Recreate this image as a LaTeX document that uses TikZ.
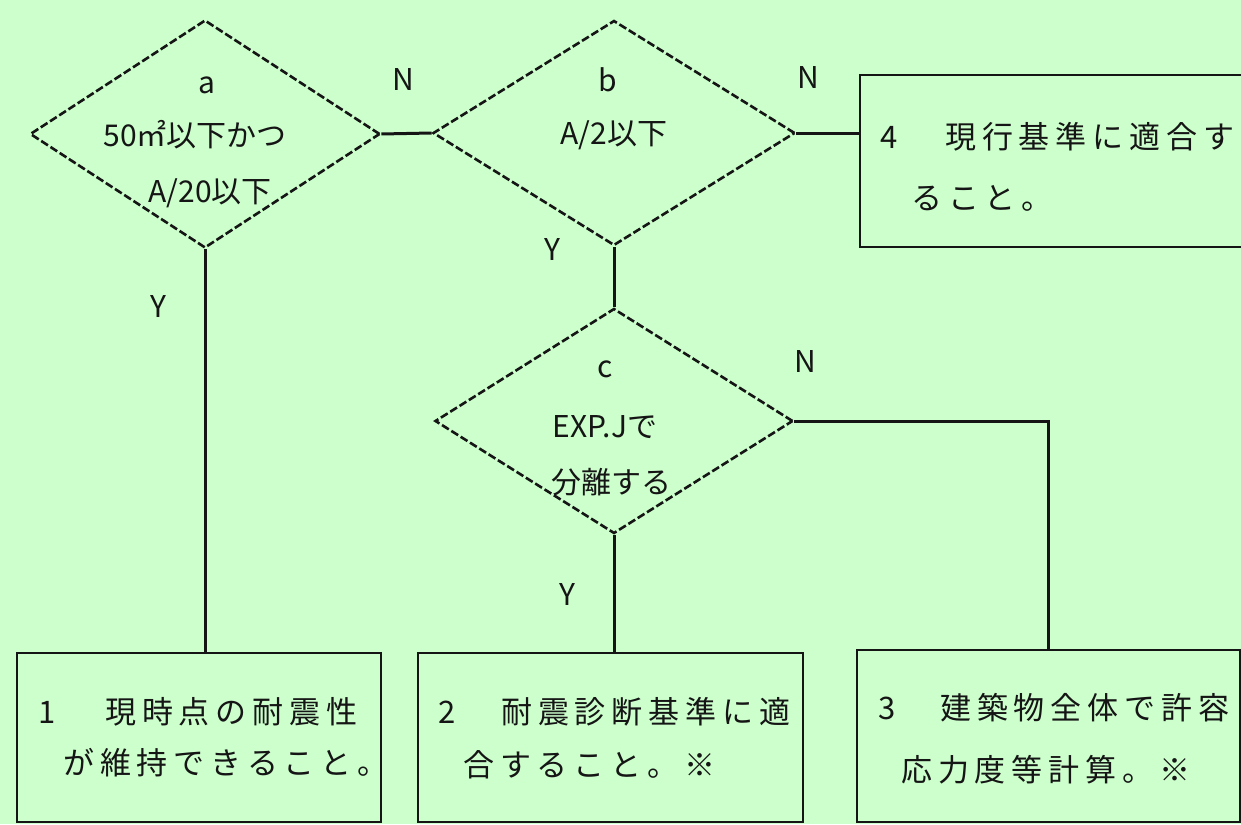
\documentclass[tikz,border=0pt]{standalone}
\usepackage{fontspec}
\setmainfont{Noto Sans CJK JP}
\newfontfamily\jp{Noto Sans CJK JP}
\newfontfamily\jpsp[LetterSpace=19]{Noto Sans CJK JP}
\usetikzlibrary{shapes.geometric}
\definecolor{bg}{HTML}{CCFFCC}
\definecolor{ink}{HTML}{151515}
\begin{document}
\begin{tikzpicture}[x=1pt,y=-1pt,
  dec/.style={diamond, draw=ink, line width=2.6pt, dash pattern=on 8pt off 3pt, inner sep=0pt},
  boxnode/.style={rectangle, draw=ink, line width=2.8pt, inner sep=0pt},
  conn/.style={draw=ink, line width=3pt},
  yn/.style={font=\jp\fontsize{30}{30}\selectfont, text=ink, inner sep=0pt},
  dtxt/.style={font=\jp\fontsize{30}{30}\selectfont, text=ink, inner sep=0pt},
  btxt/.style={font=\jpsp\fontsize{31}{31}\selectfont, text=ink, inner sep=0pt, anchor=west},
]
\fill[bg] (0,0) rectangle (1241,824);
\useasboundingbox (0,0) rectangle (1241,824);
\clip (0,0) rectangle (1241,824);

% decisions
\node[dec, minimum width=350pt, minimum height=228pt] (a) at (205,134) {};
\node[dec, minimum width=362pt, minimum height=225pt] (b) at (614,133) {};
\node[dec, minimum width=358pt, minimum height=225pt] (c) at (614,421) {};

\node[dtxt] (alab) at (207,85) {a};
\node[dtxt] (a1) at (195,135) {50㎡以下かつ};
\node[dtxt] (a2) at (210,193) {A/20以下};
\node[dtxt] (blab) at (608,80) {b};
\node[dtxt] (b1) at (614,135) {A/2以下};
\node[dtxt] (clab) at (605,369) {c};
\node[dtxt] (c1) at (605,427) {EXP.Jで};
\node[dtxt] (c2) at (611,482) {分離する};

% result boxes
\node[boxnode, minimum width=364pt, minimum height=169pt] (box1) at (199,737.5) {};
\node[boxnode, minimum width=385pt, minimum height=169pt] (box2) at (610.5,737.5) {};
\node[boxnode, minimum width=383pt, minimum height=172pt] (box3) at (1048.5,736) {};
\node[boxnode, minimum width=440pt, minimum height=172pt] (box4) at (1080,161) {};

\node[btxt] (n1) at (38,712) {1};
\node[btxt] (t1a) at (105,712) {現時点の耐震性};
\node[btxt] (t1b) at (63,763) {が維持できること。};
\node[btxt] (n2) at (438,712) {2};
\node[btxt] (t2a) at (501,712) {耐震診断基準に適};
\node[btxt] (t2b) at (463,765) {合すること。※};
\node[btxt] (n3) at (878,708) {3};
\node[btxt] (t3a) at (940,708) {建築物全体で許容};
\node[btxt] (t3b) at (901,770) {応力度等計算。※};
\node[btxt] (n4) at (880,137) {4};
\node[btxt] (t4a) at (945,137) {現行基準に適合す};
\node[btxt] (t4b) at (911,198) {ること。};

% connectors
\draw[conn] (a.east) -- (b.west);
\draw[conn] (b.east) -- (b.east -| box4.west);
\draw[conn] (b.south) -- (c.north);
\draw[conn] (c.east) -| (box3.north);
\draw[conn] (c.south) -- (c.south |- box2.north);
\draw[conn] (a.south) -- (a.south |- box1.north);

% connector labels
\node[yn] (lN1) at (403,80) {N};
\node[yn] (lN2) at (808,78) {N};
\node[yn] (lY1) at (552,250) {Y};
\node[yn] (lY0) at (158,307) {Y};
\node[yn] (lN3) at (805,362) {N};
\node[yn] (lY2) at (567,594) {Y};
\end{tikzpicture}
\end{document}
